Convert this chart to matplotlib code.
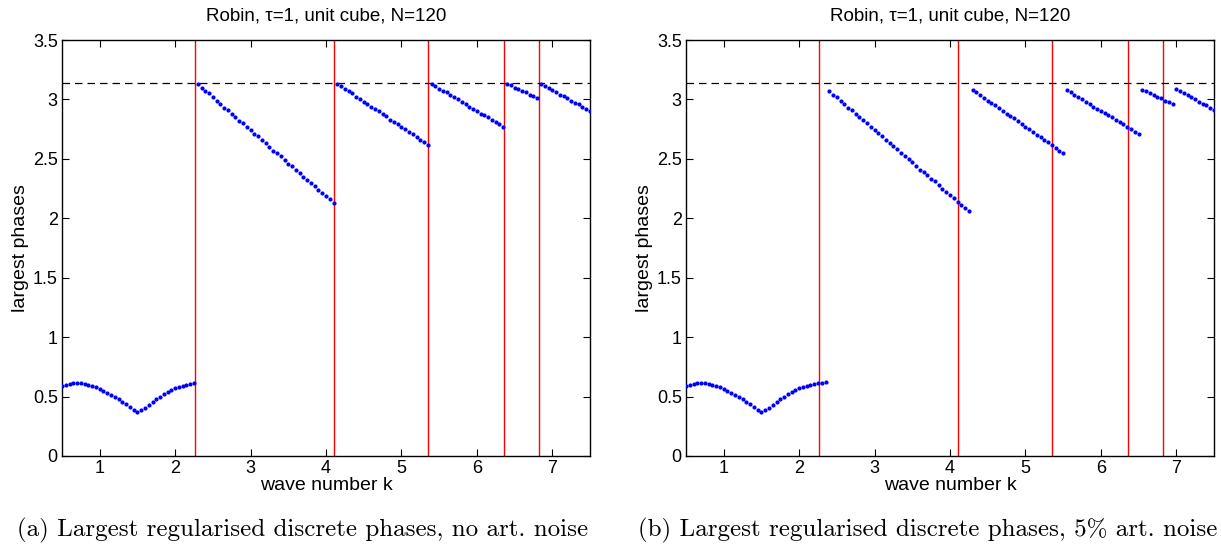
import matplotlib.pyplot as plt
import numpy as np

# wave numbers are sampled on a 0.05 grid; each branch is (first k, phases)
STEP = 0.05

# (a) no artificial noise
a_start = [0.50, 2.30, 4.15, 5.40, 6.40, 6.85]
a_phase = [
    [0.59, 0.60, 0.607, 0.612, 0.614, 0.613, 0.608, 0.60, 0.59, 0.578,
     0.565, 0.55, 0.534, 0.516, 0.497, 0.477, 0.456, 0.434, 0.412, 0.39,
     0.372, 0.385, 0.408, 0.432, 0.456, 0.478, 0.50, 0.52, 0.538, 0.554,
     0.568, 0.58, 0.59, 0.598, 0.605, 0.61],
    [3.13, 3.10, 3.07, 3.05, 3.02, 2.99, 2.96, 2.93, 2.91, 2.88,
     2.85, 2.82, 2.80, 2.77, 2.74, 2.71, 2.69, 2.66, 2.63, 2.60,
     2.57, 2.55, 2.52, 2.49, 2.46, 2.44, 2.41, 2.38, 2.35, 2.32,
     2.30, 2.27, 2.24, 2.21, 2.19, 2.16, 2.13],
    [3.13, 3.11, 3.09, 3.07, 3.05, 3.02, 3.00, 2.98, 2.96, 2.94,
     2.92, 2.90, 2.88, 2.86, 2.83, 2.81, 2.79, 2.77, 2.75, 2.73,
     2.71, 2.68, 2.66, 2.64, 2.62],
    [3.13, 3.11, 3.09, 3.07, 3.06, 3.04, 3.02, 3.00, 2.98, 2.96,
     2.94, 2.92, 2.90, 2.88, 2.87, 2.85, 2.83, 2.81, 2.79, 2.77],
    [3.13, 3.12, 3.10, 3.09, 3.07, 3.06, 3.04, 3.03, 3.01],
    [3.13, 3.11, 3.10, 3.08, 3.06, 3.04, 3.03, 3.01, 2.99, 2.97,
     2.96, 2.94, 2.92, 2.90],
]

# (b) 5% artificial noise
b_start = [0.50, 2.40, 4.30, 5.55, 6.55, 7.00]
b_phase = [
    [0.59, 0.60, 0.607, 0.612, 0.614, 0.613, 0.608, 0.60, 0.59, 0.578,
     0.565, 0.55, 0.534, 0.516, 0.497, 0.477, 0.456, 0.434, 0.412, 0.39,
     0.372, 0.385, 0.408, 0.432, 0.456, 0.478, 0.50, 0.52, 0.538, 0.554,
     0.568, 0.58, 0.59, 0.598, 0.605, 0.61, 0.615, 0.62],
    [3.07, 3.04, 3.02, 2.99, 2.96, 2.93, 2.91, 2.88, 2.85, 2.83,
     2.80, 2.77, 2.74, 2.72, 2.69, 2.66, 2.63, 2.61, 2.58, 2.55,
     2.52, 2.50, 2.47, 2.44, 2.41, 2.39, 2.36, 2.33, 2.31, 2.28,
     2.25, 2.22, 2.20, 2.17, 2.14, 2.11, 2.09, 2.06],
    [3.08, 3.06, 3.04, 3.01, 2.99, 2.97, 2.95, 2.93, 2.90, 2.88,
     2.86, 2.84, 2.82, 2.79, 2.77, 2.75, 2.73, 2.70, 2.68, 2.66,
     2.64, 2.62, 2.59, 2.57, 2.55],
    [3.08, 3.06, 3.04, 3.02, 3.00, 2.98, 2.96, 2.94, 2.92, 2.90,
     2.89, 2.87, 2.85, 2.83, 2.81, 2.79, 2.77, 2.75, 2.73, 2.71],
    [3.08, 3.07, 3.05, 3.04, 3.02, 3.01, 2.99, 2.98, 2.96],
    [3.09, 3.07, 3.05, 3.04, 3.02, 3.00, 2.98, 2.96, 2.95, 2.93, 2.91],
]

# resonances (red lines)
res_k = [2.26, 4.11, 5.35, 6.36, 6.83]

title = "Robin, \u03c4=1, unit cube, N=120"
captions = ["(a) Largest regularised discrete phases, no art. noise",
            "(b) Largest regularised discrete phases, 5% art. noise"]

xticks = [1, 2, 3, 4, 5, 6, 7]
yticks = [0, 0.5, 1, 1.5, 2, 2.5, 3, 3.5]
ylabels = ["0", "0.5", "1", "1.5", "2", "2.5", "3", "3.5"]

plt.rcParams['font.family'] = ['Liberation Sans', 'DejaVu Sans']

fig = plt.figure(figsize=(12.21, 5.5), dpi=100)
lefts = [62/1221, 686/1221]
cap_x = [303/1221, 928/1221]

for i, (starts, phases) in enumerate([(a_start, a_phase), (b_start, b_phase)]):
    ax = fig.add_axes([lefts[i], 94/550, 528/1221, 416/550])
    for kr in res_k:
        ax.axvline(kr, color="red", lw=1.0, zorder=1)
    ax.axhline(np.pi, color="black", lw=0.9, ls=(0, (6, 4)), zorder=1)
    for k0, ph in zip(starts, phases):
        k = k0 + STEP*np.arange(len(ph))
        ax.plot(k, ph, ls="none", marker="o", ms=3.0, mec="none", color="blue", zorder=3)
    ax.set_xlim(0.5, 7.5)
    ax.set_ylim(0, 3.5)
    ax.set_xticks(xticks)
    ax.set_xticklabels([str(t) for t in xticks])
    ax.set_yticks(yticks)
    ax.set_yticklabels(ylabels)
    ax.tick_params(direction="in", top=True, right=True, labelsize=13, length=5, pad=3)
    for s in ax.spines.values():
        s.set_linewidth(1.0)
    ax.set_title(title, fontsize=13.5, pad=14)
    ax.set_xlabel("wave number k", fontsize=14, labelpad=0)
    ax.set_ylabel("largest phases", fontsize=14, labelpad=3)
    fig.text(cap_x[i], 20/550, captions[i],
             family="cmr10", fontsize=18, ha="center", va="center")

plt.savefig("out.png", dpi=100)
